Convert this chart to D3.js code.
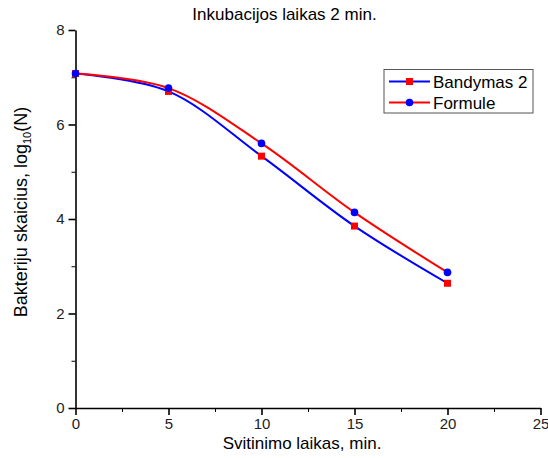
<!DOCTYPE html>
<html>
<head>
<meta charset="utf-8">
<script src="https://cdn.jsdelivr.net/npm/d3@7"></script>
<style>
  body { margin: 0; background: #fff; }
  text { font-family: "Liberation Sans", Arial, sans-serif; }
</style>
</head>
<body>
<div id="chart"></div>
<script>
// chart data
const times = [0, 5, 10, 15, 20];
const bandymas = [7.08, 6.70, 5.33, 3.85, 2.64];
const formule = [7.08, 6.77, 5.60, 4.14, 2.87];
const xTicks = [0, 5, 10, 15, 20, 25];
const yTicks = [0, 2, 4, 6, 8];

const width = 548, height = 458;
const margin = { left: 75.5, right: 7.5, top: 30, bottom: 50 };

const svg = d3.select("#chart").append("svg")
    .attr("width", width)
    .attr("height", height);

let x = d3.scaleLinear()
    .domain([0, 25])
    .range([margin.left, width - margin.right]);

let y = d3.scaleLinear()
    .domain([0, 8])
    .range([height - margin.bottom, margin.top]);

// minor ticks first so the major ones draw on top
svg.append("g")
    .attr("transform", "translate(0," + y(0) + ")")
    .call(d3.axisBottom(x).tickValues([2.5, 7.5, 12.5, 17.5, 22.5]).tickSize(4).tickFormat(""))
    .call(g => g.select(".domain").remove());

svg.append("g")
    .attr("transform", "translate(" + x(0) + ",0)")
    .call(d3.axisLeft(y).tickValues([1, 3, 5, 7]).tickSize(4).tickFormat(""))
    .call(g => g.select(".domain").remove());

let xAxis = svg.append("g")
    .attr("transform", "translate(0," + y(0) + ")")
    .call(d3.axisBottom(x).tickValues(xTicks).tickSize(7).tickPadding(3).tickSizeOuter(0));

let yAxis = svg.append("g")
    .attr("transform", "translate(" + x(0) + ",0)")
    .call(d3.axisLeft(y).tickValues(yTicks).tickSize(7).tickPadding(4).tickSizeOuter(0));

[xAxis, yAxis].forEach(a => {
    a.selectAll("text").style("font-size", "15px").attr("fill", "#222");
    a.selectAll("line, path").attr("stroke", "#000").attr("stroke-width", 1.6);
});

// titles
svg.append("text")
    .attr("x", 284.5).attr("y", 20)
    .attr("text-anchor", "middle")
    .style("font-size", "17px")
    .text("Inkubacijos laikas 2 min.");

svg.append("text")
    .attr("x", 302).attr("y", 449)
    .attr("text-anchor", "middle")
    .style("font-size", "17px")
    .text("Svitinimo laikas, min.");

let yl = svg.append("text")
    .attr("transform", "translate(27," + 212 + ") rotate(-90)")
    .attr("text-anchor", "middle")
    .style("font-size", "18px");
yl.append("tspan").text("Bakteriju skaicius, log");
yl.append("tspan").attr("dy", 4).style("font-size", "11px").text("10");
yl.append("tspan").attr("dy", -4).text("(N)");

// series
const series = [
    { name: "Bandymas 2", values: bandymas, line: "#0000ff", marker: "#ff0000", shape: "square" },
    { name: "Formule", values: formule, line: "#ff0000", marker: "#0000ff", shape: "circle" }
];

let line = d3.line()
    .x(d => x(d[0]))
    .y(d => y(d[1]))
    .curve(d3.curveCatmullRom.alpha(0.5));

function drawMarker(g, shape, color, cx, cy) {
    if (shape === "square") {
        g.append("rect")
            .attr("x", cx - 3.5).attr("y", cy - 3.5)
            .attr("width", 7).attr("height", 7)
            .attr("fill", color);
    } else {
        g.append("circle")
            .attr("cx", cx).attr("cy", cy).attr("r", 3.8)
            .attr("fill", color);
    }
}

series.forEach(s => {
    let pts = times.map((t, i) => [t, s.values[i]]);
    svg.append("path")
        .datum(pts)
        .attr("fill", "none")
        .attr("stroke", s.line)
        .attr("stroke-width", 2)
        .attr("d", line);
});

series.forEach(s => {
    let g = svg.append("g");
    times.forEach((t, i) => drawMarker(g, s.shape, s.marker, x(t), y(s.values[i])));
});

// legend
let legend = svg.append("g").attr("transform", "translate(384,69.5)");
legend.append("rect")
    .attr("width", 149).attr("height", 43.5)
    .attr("fill", "#fff")
    .attr("stroke", "#555")
    .attr("stroke-width", 1);

series.forEach((s, i) => {
    let cy = 12 + i * 21;
    legend.append("line")
        .attr("x1", 5).attr("x2", 46)
        .attr("y1", cy).attr("y2", cy)
        .attr("stroke", s.line).attr("stroke-width", 2);
    drawMarker(legend, s.shape, s.marker, 25.5, cy);
    legend.append("text")
        .attr("x", 49).attr("y", cy + 6)
        .style("font-size", "17px")
        .text(s.name);
});
</script>
</body>
</html>
